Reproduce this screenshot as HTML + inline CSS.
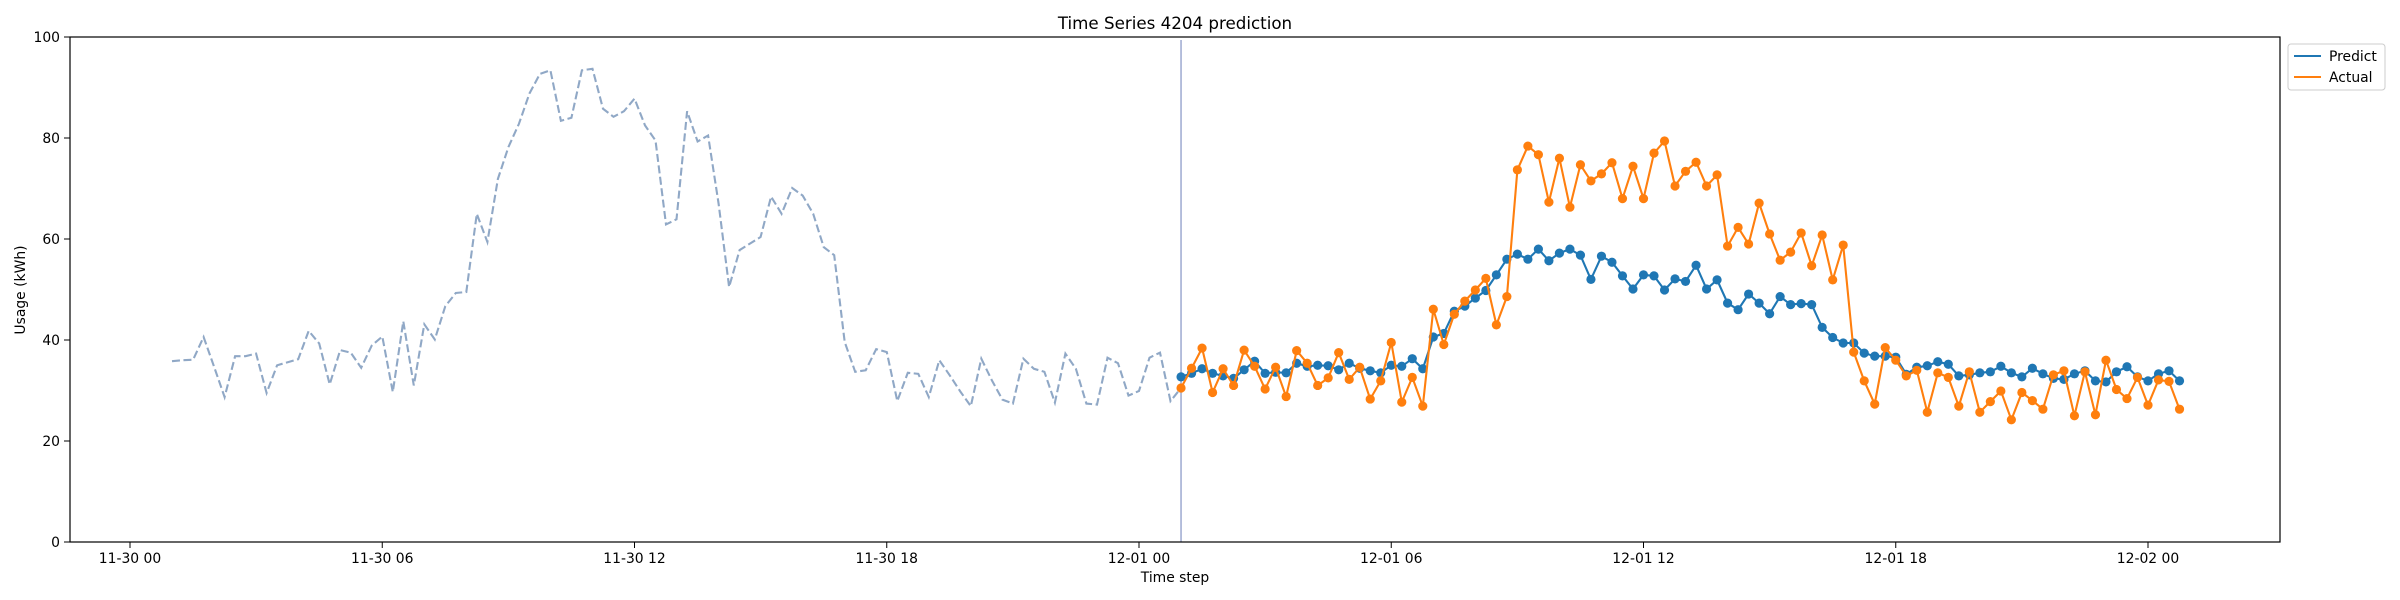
<!DOCTYPE html>
<html><head><meta charset="utf-8"><style>
html,body{margin:0;padding:0;background:#fff;}
svg{display:block;font-family:"DejaVu Sans","Liberation Sans",sans-serif;}
</style></head><body>
<svg id="chart" width="2400" height="600" viewBox="0 0 2400 600" xmlns="http://www.w3.org/2000/svg">
<rect width="2400" height="600" fill="#fff"/>
<text x="1175" y="29" font-size="16.7" text-anchor="middle">Time Series 4204 prediction</text>
<g id="plot"></g>
<rect x="70" y="37" width="2210" height="505" fill="none" stroke="#000" stroke-width="1.2"/>
<text transform="translate(25,290) rotate(-90)" font-size="13.9" text-anchor="middle">Usage (kWh)</text>
<text x="1175" y="582" font-size="13.9" text-anchor="middle">Time step</text>
<g>
<rect x="2288" y="44" width="97" height="46" rx="3" fill="#fff" stroke="#ccc"/>
<line x1="2294" y1="56" x2="2321" y2="56" stroke="#1f77b4" stroke-width="2.1"/>
<text x="2329" y="61" font-size="13.9">Predict</text>
<line x1="2294" y1="77" x2="2321" y2="77" stroke="#ff7f0e" stroke-width="2.1"/>
<text x="2329" y="82" font-size="13.9">Actual</text>
</g>
</svg>
<script>
const history = [35.8,36.0,36.1,40.6,34.7,28.7,36.8,36.8,37.3,29.5,35.0,35.6,36.2,41.8,39.3,31.2,38.0,37.5,34.5,38.9,40.7,29.7,43.7,31.0,43.1,40.1,46.7,49.3,49.5,65.0,59.4,71.9,78.2,82.8,88.8,92.7,93.4,83.4,84.0,93.4,93.7,85.8,84.2,85.3,87.8,82.5,79.5,62.9,63.9,85.3,79.3,80.5,67.0,50.5,57.8,59.1,60.4,68.4,65.0,70.1,68.6,65.0,58.4,56.8,39.6,33.7,34.0,38.2,37.6,27.9,33.5,33.3,28.7,36.0,33.0,29.8,26.9,36.3,32.0,28.2,27.4,36.3,34.3,33.7,27.6,37.3,34.3,27.4,27.2,36.5,35.4,29.0,29.9,36.5,37.5,27.9];
const predict = [32.7,33.4,34.3,33.4,32.9,32.4,34.1,35.8,33.4,33.6,33.5,35.4,34.8,35.0,34.9,34.1,35.4,34.4,33.9,33.5,35.0,34.8,36.3,34.3,40.6,41.3,45.7,46.7,48.3,49.8,52.9,56.0,57.0,56.0,58.0,55.7,57.2,58.0,56.8,52.0,56.6,55.4,52.7,50.1,52.9,52.7,49.9,52.1,51.6,54.8,50.1,51.9,47.3,46.0,49.1,47.3,45.2,48.6,47.0,47.2,47.0,42.5,40.5,39.4,39.4,37.4,36.8,36.8,36.6,33.2,34.6,34.9,35.7,35.2,32.9,33.1,33.5,33.7,34.8,33.5,32.7,34.4,33.3,32.4,32.2,33.3,33.9,31.9,31.7,33.7,34.7,32.7,31.9,33.3,33.9,31.9];
const actual = [30.5,34.4,38.4,29.6,34.3,31.0,38.0,34.8,30.3,34.6,28.8,37.9,35.4,31.0,32.5,37.5,32.2,34.6,28.3,31.9,39.5,27.7,32.6,26.9,46.1,39.1,45.1,47.7,49.9,52.2,43.0,48.6,73.7,78.4,76.7,67.3,76.0,66.3,74.7,71.5,72.9,75.1,68.0,74.4,68.0,77.0,79.4,70.5,73.4,75.2,70.5,72.7,58.6,62.3,59.0,67.1,61.0,55.8,57.4,61.2,54.7,60.8,51.9,58.8,37.6,31.9,27.3,38.5,36.0,32.9,34.0,25.7,33.5,32.6,26.9,33.7,25.7,27.8,29.9,24.2,29.6,28.0,26.3,33.1,33.9,25.0,33.7,25.2,36.0,30.2,28.4,32.6,27.1,32.1,31.8,26.3];
const yTicks = [0,20,40,60,80,100];
const xTickHours = [0,6,12,18,24,30,36,42,48];
const xTickLabels = ["11-30 00","11-30 06","11-30 12","11-30 18","12-01 00","12-01 06","12-01 12","12-01 18","12-02 00"];
const historyStartHour = 1;
const forecastStartHour = 25;
const stepHours = 0.25;

const NS = "http://www.w3.org/2000/svg";
const plot = document.getElementById('plot');
const X = h => 130 + h * (2148 - 130) / 48;
const Y = v => 542 - v * 5.05;
function mk(tag, attrs){ const e = document.createElementNS(NS, tag); for (const k in attrs) e.setAttribute(k, attrs[k]); plot.appendChild(e); return e; }

yTicks.forEach(v => {
  const t = mk('line', {x1:64, x2:70, y1:Y(v), y2:Y(v), stroke:'#000', 'stroke-width':1});
  
  
  const l = mk('text', {x:60, y:Y(v)+5, 'font-size':13.9, 'text-anchor':'end'});
  l.textContent = v;
  
  
});
xTickHours.forEach((h, i) => {
  const t = mk('line', {x1:X(h), x2:X(h), y1:542, y2:548, stroke:'#000', 'stroke-width':1});
  
  
  const l = mk('text', {x:X(h), y:563, 'font-size':13.9, 'text-anchor':'middle'});
  l.textContent = xTickLabels[i];
  
  
});

const hp = history.map((v,i) => X(historyStartHour + i*stepHours).toFixed(1) + ',' + Y(v).toFixed(1));
hp.push(X(forecastStartHour).toFixed(1) + ',' + Y(actual[0]).toFixed(1));
const hl = mk('polyline', {points: hp.join(' '), fill:'none', stroke:'#90a8c6', 'stroke-width':2.1, 'stroke-dasharray':'8,3.5'});



const vl = mk('line', {x1:X(forecastStartHour), x2:X(forecastStartHour), y1:40, y2:542, stroke:'#a3aed3', 'stroke-width':1.6});



function series(arr, color, name){
  const pts = arr.map((v,j) => X(forecastStartHour + j*stepHours).toFixed(1) + ',' + Y(v).toFixed(1));
  const pl = mk('polyline', {points: pts.join(' '), fill:'none', stroke:color, 'stroke-width':2.1});
  
  
  arr.forEach((v,j) => {
    const c = mk('circle', {cx:X(forecastStartHour + j*stepHours), cy:Y(v), r:4.6, fill:color});
    
    
  });
}
series(predict, '#1f77b4', 'predict');
series(actual, '#ff7f0e', 'actual');
</script>
</body></html>
